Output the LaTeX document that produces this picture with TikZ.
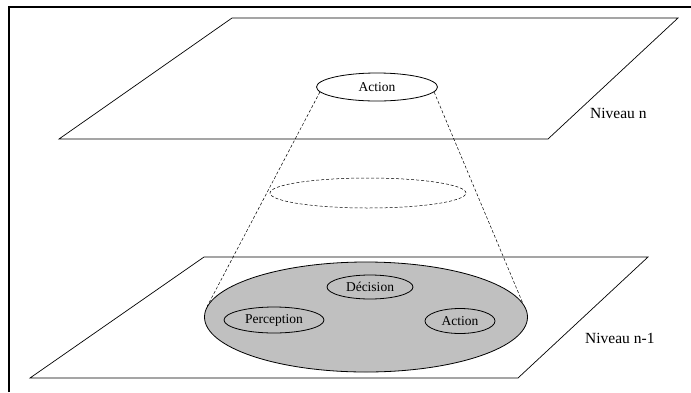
\documentclass[tikz,border=0pt]{standalone}
\usepackage{fontspec}
\setmainfont{Liberation Serif}
\usetikzlibrary{shapes.geometric}
\definecolor{shade}{RGB}{192,192,192}
\begin{document}
\begin{tikzpicture}[x=1pt,y=-1pt,
  plane/.style={draw=black,line width=0.7pt,line join=miter},
  oval/.style={ellipse,draw=black,line width=0.8pt,inner sep=0pt,font=\fontsize{13.5}{15}\selectfont},
  cone/.style={draw=black,line width=0.5pt,dash pattern=on 3pt off 2pt},
  level/.style={font=\fontsize{15.5}{17}\selectfont,inner sep=0pt}]
\useasboundingbox (0,0) rectangle (691,392);
% outer frame
\draw[line width=2.2pt] (9,392) -- (9,7) -- (691,7);
% the two levels
\draw[plane] (232,18) -- (678,18) -- (548,139) -- (59,139) -- cycle;
\draw[plane] (204,257) -- (648,257) -- (518,378) -- (30,378) -- cycle;
% upper action
\node[oval,minimum width=121pt,minimum height=28pt] (topact) at (377,87) {Action};
% lower agent
\node[oval,fill=shade,minimum width=323pt,minimum height=110pt] (agent) at (366,317) {};
\node[oval,minimum width=86pt,minimum height=24pt] (dec) at (370,287) {Décision};
\node[oval,minimum width=100pt,minimum height=26pt] (perc) at (274,320) {Perception};
\node[oval,minimum width=70pt,minimum height=25pt] (act) at (460,321) {Action};
% intermediate section of the cone
\node[ellipse,cone,minimum width=196pt,minimum height=30pt,inner sep=0pt] (mid) at (368,193) {};
\draw[cone] (topact.185) -- (agent.176);
\draw[cone] (topact.-5) -- (agent.5);
% level labels
\node[level,anchor=west] (ln) at (590,113) {Niveau n};
\node[level,anchor=west] (ln1) at (585,338) {Niveau n-1};
\end{tikzpicture}
\end{document}
